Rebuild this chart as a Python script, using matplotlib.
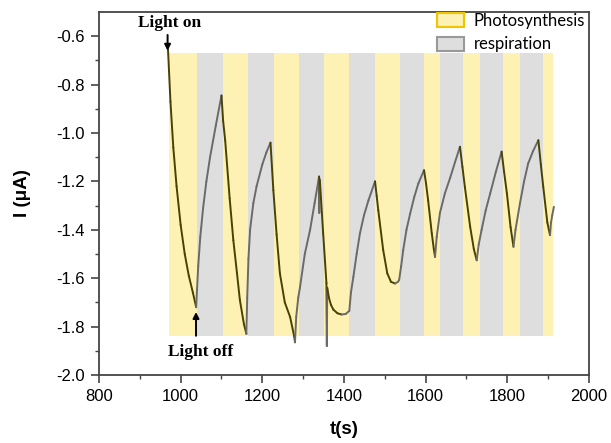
import numpy as np
import matplotlib
matplotlib.use('Agg')
import matplotlib.pyplot as plt
from matplotlib.collections import LineCollection
from matplotlib.patches import Patch

# photocurrent trace
t = [969, 975, 982, 990, 1000, 1010, 1020, 1030, 1038,
     1040, 1043, 1048, 1055, 1063, 1072, 1086, 1100,
     1104, 1109, 1120, 1129, 1138, 1145, 1155, 1161,
     1163, 1166, 1170, 1178, 1186, 1200, 1210, 1220,
     1227, 1235, 1243, 1255, 1268, 1278, 1280,
     1283, 1288, 1292, 1304, 1317, 1328, 1339,
     1339.5, 1340,
     1341, 1349, 1357, 1358, 1359, 1363, 1368, 1374, 1384, 1394, 1404, 1413,
     1417, 1423, 1431, 1439, 1449, 1460, 1476,
     1480, 1484, 1496, 1506, 1515, 1525, 1532, 1535,
     1540, 1545, 1553, 1562, 1572, 1582, 1596,
     1601, 1606, 1615, 1620, 1623,
     1627, 1635, 1647, 1660, 1672, 1684,
     1690, 1696, 1709, 1718, 1725,
     1730, 1737, 1747, 1758, 1772, 1786,
     1792, 1799, 1808, 1815,
     1820, 1831, 1841, 1851, 1863, 1876,
     1882, 1888, 1898, 1904.5,
     1907, 1910, 1914]
cur = [-0.655, -0.87, -1.06, -1.22, -1.38, -1.50, -1.59, -1.66, -1.72,
       -1.65, -1.55, -1.43, -1.31, -1.20, -1.10, -0.97, -0.845,
       -0.95, -1.03, -1.27, -1.443, -1.58, -1.69, -1.79, -1.83,
       -1.68, -1.52, -1.40, -1.29, -1.22, -1.13, -1.08, -1.04,
       -1.236, -1.42, -1.58, -1.70, -1.76, -1.84, -1.865,
       -1.76, -1.68, -1.64, -1.50, -1.40, -1.29, -1.18,
       -1.33, -1.19,
       -1.20, -1.415, -1.62, -1.88, -1.64, -1.68, -1.71, -1.73, -1.745, -1.75, -1.748, -1.735,
       -1.66, -1.594, -1.50, -1.415, -1.34, -1.278, -1.20,
       -1.26, -1.32, -1.484, -1.58, -1.615, -1.622, -1.615, -1.608,
       -1.55, -1.484, -1.40, -1.333, -1.265, -1.209, -1.154,
       -1.21, -1.278, -1.415, -1.48, -1.512,
       -1.43, -1.33, -1.25, -1.185, -1.12, -1.057,
       -1.14, -1.223, -1.388, -1.48, -1.526,
       -1.46, -1.40, -1.32, -1.25, -1.16, -1.077,
       -1.16, -1.25, -1.39, -1.47,
       -1.40, -1.29, -1.20, -1.126, -1.075, -1.03,
       -1.13, -1.223, -1.37, -1.422,
       -1.37, -1.34, -1.305]

# light / dark periods (start with light)
band_edges = [971, 1041, 1103, 1164, 1229, 1290, 1352, 1413, 1477, 1538,
              1596, 1635, 1691, 1733, 1790, 1831, 1887, 1913]
band_low, band_high = -1.84, -0.67

yellow = '#fdf1b3'
grey = '#dedede'

plt.rcParams['font.family'] = ['Liberation Sans', 'DejaVu Sans']
fig = plt.figure(figsize=(6.11, 4.43), dpi=100)
ax = fig.add_axes([0.162, 0.1535, 0.802, 0.8195])

for k in range(len(band_edges) - 1):
    c = yellow if k % 2 == 0 else grey
    ax.bar(band_edges[k], band_high - band_low, width=band_edges[k + 1] - band_edges[k],
           bottom=band_low, align='edge', color=c, linewidth=0, zorder=1)

t = np.array(t)
cur = np.array(cur)
pts = np.column_stack([t, cur])
segs = np.stack([pts[:-1], pts[1:]], axis=1)
cols = ['#4a4200' if d < 0 else '#6a6a6a' for d in np.diff(cur)]
lc = LineCollection(segs, colors=cols, linewidths=1.4, capstyle='round', zorder=3)
ax.add_collection(lc)

ax.set_xlim(800, 2000)
ax.set_ylim(-2.0, -0.5)
ax.set_xticks(np.arange(800, 2001, 200))
ax.set_xticks(np.arange(900, 2000, 200), minor=True)
ax.set_yticks(np.arange(-2.0, -0.55, 0.2))
ax.set_yticks(np.arange(-1.9, -0.5, 0.2), minor=True)
ax.yaxis.set_major_formatter(matplotlib.ticker.FormatStrFormatter('%.1f'))
ax.tick_params(which='major', direction='out', length=6, width=1.2, labelsize=12,
               color='#444444', pad=4)
ax.tick_params(which='minor', direction='out', length=3, width=1.0, color='#444444')
for s in ax.spines.values():
    s.set_linewidth(1.3)
    s.set_color('#444444')

ax.set_xlabel('t(s)', fontsize=13.5, fontweight='bold', labelpad=12)
ax.set_ylabel('I (μA)', fontsize=13.5, fontweight='bold', labelpad=18)

# annotations
serif = ['Liberation Serif', 'DejaVu Serif']
ax.text(974, -0.545, 'Light on', family=serif, fontweight='bold', fontsize=12.5,
        ha='center', va='center', zorder=4)
ax.annotate('', xy=(968, -0.66), xytext=(968, -0.595),
            arrowprops=dict(arrowstyle='-|>,head_width=0.18,head_length=0.35',
                            color='black', lw=1.4, shrinkA=0, shrinkB=0), zorder=4)
ax.text(1050, -1.905, 'Light off', family=serif, fontweight='bold', fontsize=12.5,
        ha='center', va='center', zorder=4)
ax.annotate('', xy=(1037.6, -1.74), xytext=(1037.6, -1.838),
            arrowprops=dict(arrowstyle='-|>,head_width=0.18,head_length=0.35',
                            color='black', lw=1.4, shrinkA=0, shrinkB=0), zorder=4)

handles = [Patch(facecolor=yellow, edgecolor='#f0c400', linewidth=1.5, label='Photosynthesis'),
           Patch(facecolor=grey, edgecolor='#999999', linewidth=1.5, label='respiration')]
ax.legend(handles=handles, loc='upper right', bbox_to_anchor=(1.012, 1.025), frameon=False,
          prop={'family': 'Lato', 'size': 12}, handlelength=1.6, handleheight=0.9,
          handletextpad=0.6, labelspacing=0.45, borderaxespad=0.2)

fig.savefig('out.png', dpi=100)
